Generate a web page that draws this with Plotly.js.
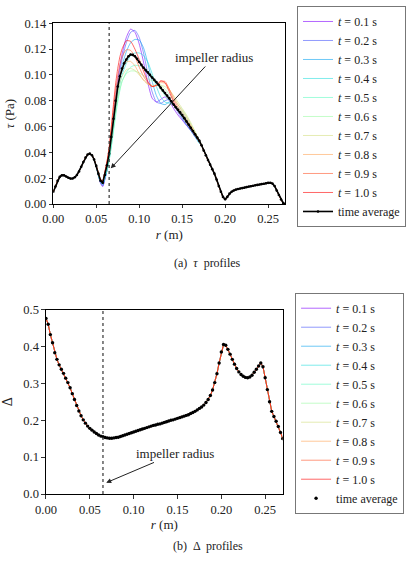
<!DOCTYPE html>
<html>
<head>
<meta charset="utf-8">
<script src="https://cdn.plot.ly/plotly-3.0.1.min.js"></script>
<style>html,body{margin:0;padding:0;background:#fff;}#chart{width:415px;height:564px;}</style>
</head>
<body>
<div id="chart"></div>
<script>
// ---------------- DATA ----------------
const radius = [0,0.0025,0.005,0.0075,0.01,0.0125,0.015,0.0175,0.02,0.0225,0.025,0.0275,0.03,0.0325,0.035,0.0375,0.04,0.0425,0.045,0.0475,0.05,0.0525,0.055,0.0575,0.06,0.0625,0.065,0.0675,0.07,0.0725,0.075,0.0775,0.08,0.0825,0.085,0.0875,0.09,0.0925,0.095,0.0975,0.1,0.1025,0.105,0.1075,0.11,0.1125,0.115,0.1175,0.12,0.1225,0.125,0.1275,0.13,0.1325,0.135,0.1375,0.14,0.1425,0.145,0.1475,0.15,0.1525,0.155,0.1575,0.16,0.1625,0.165,0.1675,0.17,0.1725,0.175,0.1775,0.18,0.1825,0.185,0.1875,0.19,0.1925,0.195,0.1975,0.2,0.2025,0.205,0.2075,0.21,0.2125,0.215,0.2175,0.22,0.2225,0.225,0.2275,0.23,0.2325,0.235,0.2375,0.24,0.2425,0.245,0.2475,0.25,0.2525,0.255,0.2575,0.26,0.2625,0.265,0.2675,0.27];

const tauAverage = [0.0095,0.0135,0.0180,0.0210,0.0222,0.0222,0.0213,0.0203,0.0197,0.0198,
0.0207,0.0225,0.0252,0.0288,0.0325,0.0360,0.0383,0.0390,0.0378,0.0345,
0.0295,0.0235,0.0180,0.0165,0.0225,0.0300,0.0390,0.0520,0.0660,0.0800,
0.0910,0.0990,0.1050,0.1090,0.1120,0.1145,0.1158,0.1155,0.1145,0.1125,
0.1100,0.1078,0.1055,0.1037,0.1020,0.1000,0.0980,0.0962,0.0945,0.0923,
0.0900,0.0880,0.0860,0.0840,0.0820,0.0795,0.0770,0.0750,0.0730,0.0710,
0.0690,0.0665,0.0640,0.0615,0.0590,0.0565,0.0540,0.0515,0.0490,0.0455,
0.0415,0.0378,0.0340,0.0305,0.0270,0.0235,0.0190,0.0140,0.0095,0.0055,
0.0037,0.0055,0.0080,0.0095,0.0105,0.0112,0.0116,0.0120,0.0123,0.0127,
0.0131,0.0135,0.0138,0.0141,0.0145,0.0148,0.0151,0.0154,0.0157,0.0160,
0.0164,0.0165,0.0158,0.0140,0.0105,0.0070,0.0035,0.0008,0.0000];

const deltaAverage = [0.476,0.460,0.432,0.410,0.383,0.365,0.350,0.338,0.327,0.314,
0.302,0.288,0.272,0.256,0.240,0.225,0.212,0.201,0.192,0.184,
0.178,0.173,0.168,0.164,0.160,0.157,0.155,0.153,0.152,0.151,
0.151,0.152,0.153,0.154,0.156,0.158,0.160,0.162,0.164,0.166,
0.168,0.170,0.172,0.174,0.176,0.178,0.180,0.182,0.184,0.186,
0.187,0.189,0.190,0.192,0.194,0.196,0.198,0.200,0.201,0.203,
0.205,0.207,0.209,0.211,0.213,0.215,0.218,0.221,0.224,0.228,
0.232,0.236,0.241,0.248,0.256,0.267,0.282,0.302,0.326,0.355,
0.385,0.405,0.403,0.392,0.379,0.365,0.352,0.340,0.331,0.324,
0.319,0.316,0.315,0.317,0.322,0.330,0.338,0.347,0.355,0.345,
0.315,0.283,0.250,0.224,0.210,0.197,0.183,0.167,0.150];

// radii where the instantaneous tau profiles differ from the average
const waveRadius = [0.0525,0.055,0.0575,0.06,0.0625,0.065,0.0675,0.07,0.0725,0.075,0.0775,0.08,0.085,0.09,0.095,0.1,0.105,0.11,0.115,0.12,0.125,0.13,0.135,0.14,0.145,0.15,0.155,0.16,0.165,0.17];

const tau_t01 = [0.022,0.016,0.0135,0.019,0.027,0.037,0.051,0.067,0.083,0.096,0.107,0.116,0.129,0.1355,0.133,0.124,0.110,0.094,0.082,0.079,0.081,0.083,0.080,0.074,0.069,0.065,0.061,0.057,0.053,0.048];
const tau_t02 = [0.022,0.0165,0.014,0.019,0.026,0.036,0.049,0.064,0.079,0.092,0.103,0.112,0.125,0.133,0.1345,0.129,0.117,0.101,0.087,0.079,0.078,0.080,0.081,0.077,0.071,0.066,0.061,0.057,0.052,0.048];
const tau_t03 = [0.022,0.017,0.015,0.020,0.026,0.035,0.047,0.061,0.075,0.088,0.099,0.107,0.118,0.125,0.1275,0.127,0.121,0.109,0.095,0.084,0.078,0.077,0.079,0.078,0.073,0.067,0.062,0.057,0.052,0.047];
const tau_t04 = [0.022,0.017,0.0155,0.020,0.026,0.034,0.045,0.058,0.071,0.083,0.093,0.100,0.109,0.115,0.117,0.117,0.115,0.110,0.101,0.091,0.083,0.079,0.078,0.077,0.074,0.069,0.064,0.058,0.053,0.047];
const tau_t05 = [0.022,0.0175,0.016,0.021,0.026,0.034,0.044,0.056,0.068,0.079,0.088,0.095,0.102,0.106,0.1075,0.107,0.1055,0.103,0.099,0.094,0.089,0.084,0.080,0.077,0.075,0.071,0.066,0.060,0.054,0.048];
const tau_t06 = [0.023,0.018,0.0165,0.022,0.028,0.036,0.047,0.059,0.071,0.081,0.089,0.095,0.101,0.103,0.103,0.1015,0.0995,0.097,0.0955,0.094,0.092,0.089,0.085,0.081,0.077,0.073,0.068,0.062,0.056,0.049];
const tau_t07 = [0.023,0.0185,0.017,0.023,0.030,0.039,0.051,0.064,0.076,0.086,0.094,0.099,0.104,0.105,0.1035,0.100,0.096,0.093,0.092,0.092,0.092,0.091,0.088,0.084,0.079,0.074,0.069,0.063,0.056,0.049];
const tau_t08 = [0.024,0.019,0.0175,0.024,0.032,0.042,0.056,0.070,0.083,0.093,0.101,0.106,0.110,0.1105,0.107,0.101,0.096,0.093,0.091,0.092,0.094,0.0935,0.089,0.083,0.077,0.072,0.067,0.061,0.055,0.049];
const tau_t09 = [0.024,0.019,0.018,0.025,0.033,0.043,0.058,0.074,0.088,0.099,0.108,0.114,0.1195,0.119,0.114,0.106,0.099,0.094,0.091,0.092,0.095,0.095,0.089,0.081,0.075,0.070,0.065,0.060,0.054,0.048];
const tau_t10 = [0.024,0.019,0.018,0.025,0.033,0.044,0.060,0.077,0.093,0.105,0.114,0.120,0.1265,0.126,0.120,0.112,0.103,0.095,0.091,0.092,0.0955,0.094,0.087,0.079,0.073,0.068,0.063,0.058,0.053,0.048];

const snapshotLabels = ['0.1','0.2','0.3','0.4','0.5','0.6','0.7','0.8','0.9','1.0'];
const snapshotColors = ['rgba(128,0,255,0.6)','rgba(71,87,251,0.6)','rgba(14,164,240,0.6)','rgba(43,221,221,0.6)','rgba(99,251,195,0.6)','rgba(156,251,164,0.6)','rgba(212,221,128,0.6)','rgba(255,164,87,0.6)','rgba(255,87,44,0.6)','rgba(255,0,0,0.6)'];
const tauSnapshots = [tau_t01,tau_t02,tau_t03,tau_t04,tau_t05,tau_t06,tau_t07,tau_t08,tau_t09,tau_t10];
const impellerRadius = 0.065;

// ---------------- BUILD ----------------
function fullProfile(wave){
  const xs=[], ys=[];
  const lo = waveRadius[0]-1e-9, hi = waveRadius[waveRadius.length-1]+1e-9;
  for(let i=0;i<radius.length;i++) if(radius[i]<lo){xs.push(radius[i]); ys.push(tauAverage[i]);}
  for(let j=0;j<waveRadius.length;j++){xs.push(waveRadius[j]); ys.push(wave[j]);}
  for(let i=0;i<radius.length;i++) if(radius[i]>hi){xs.push(radius[i]); ys.push(tauAverage[i]);}
  return {xs, ys};
}

const traces = [];
tauSnapshots.forEach((w,k)=>{
  const p = fullProfile(w);
  traces.push({x:p.xs, y:p.ys, xaxis:'x', yaxis:'y', type:'scatter', mode:'lines',
    line:{color:snapshotColors[k], width:1, shape:'spline', smoothing:0.6},
    name:'<i>t</i> = '+snapshotLabels[k]+' s', legend:'legend', hoverinfo:'skip'});
});
traces.push({x:radius, y:tauAverage, xaxis:'x', yaxis:'y', type:'scatter', mode:'lines+markers',
  line:{color:'#000', width:1.6}, marker:{color:'#000', size:2.6}, name:'time average', legend:'legend'});

snapshotColors.forEach((c,k)=>{
  traces.push({x:radius, y:deltaAverage, xaxis:'x2', yaxis:'y2', type:'scatter', mode:'lines',
    line:{color:c, width:1}, name:'<i>t</i> = '+snapshotLabels[k]+' s', legend:'legend2', hoverinfo:'skip'});
});
traces.push({x:radius, y:deltaAverage, xaxis:'x2', yaxis:'y2', type:'scatter', mode:'markers',
  marker:{color:'#000', size:3.4}, name:'time average', legend:'legend2'});

const serif = '"Liberation Serif", "DejaVu Serif", serif';
function ax(extra){
  return Object.assign({showline:true, mirror:true, linecolor:'#000', linewidth:1, showgrid:false, zeroline:false,
    ticks:'outside', ticklen:3.5, tickwidth:0.8, tickcolor:'#000', tickfont:{family:serif, size:12.5, color:'#222'}}, extra);
}

const layout = {
  width:415, height:564, margin:{l:0,r:0,t:0,b:0},
  paper_bgcolor:'#fff', plot_bgcolor:'#fff',
  font:{family:serif, size:12.5, color:'#222'},
  showlegend:true,
  xaxis: ax({domain:[0.1284,0.6875], anchor:'y', range:[0,0.27], tick0:0, dtick:0.05, tickformat:'.2f',
    title:{text:'<i>r</i> (m)', standoff:4, font:{family:serif,size:13,color:'#222'}}}),
  yaxis: ax({domain:[0.6383,0.9587], anchor:'x', range:[0,0.14], tick0:0, dtick:0.02, tickformat:'.2f',
    title:{text:'<i>τ</i> (Pa)', standoff:6, font:{family:serif,size:13,color:'#222'}}}),
  xaxis2: ax({domain:[0.1108,0.6812], anchor:'y2', range:[0,0.27], tick0:0, dtick:0.05, tickformat:'.2f',
    title:{text:'<i>r</i> (m)', standoff:4, font:{family:serif,size:13,color:'#222'}}}),
  yaxis2: ax({domain:[0.1241,0.4512], anchor:'x2', range:[0,0.5], tick0:0, dtick:0.1, tickformat:'.1f',
    title:{text:'Δ', standoff:8, font:{family:serif,size:14,color:'#222'}}}),
  legend:{x:0.7157, y:0.9894, xanchor:'left', yanchor:'top', bgcolor:'#fff', bordercolor:'#777', borderwidth:1,
    font:{family:serif, size:12, color:'#222'}, tracegroupgap:0},
  legend2:{x:0.711, y:0.481, xanchor:'left', yanchor:'top', bgcolor:'#fff', bordercolor:'#777', borderwidth:1,
    font:{family:serif, size:12, color:'#222'}, tracegroupgap:0},
  shapes:[
    {type:'line', xref:'x', yref:'y domain', x0:impellerRadius, x1:impellerRadius, y0:0, y1:1, line:{color:'#333', width:1.2, dash:'dot'}},
    {type:'line', xref:'x2', yref:'y2 domain', x0:impellerRadius, x1:impellerRadius, y0:0, y1:1, line:{color:'#333', width:1.2, dash:'dot'}}
  ],
  annotations:[
    {xref:'x', yref:'y', axref:'x', ayref:'y', x:0.0669, y:0.0276, ax:0.1866, ay:0.1135, text:'impeller radius',
      showarrow:true, arrowhead:2, arrowsize:1, arrowwidth:1, arrowcolor:'#222', font:{family:serif,size:13,color:'#222'}},
    {xref:'x2', yref:'y2', axref:'x2', ayref:'y2', x:0.0687, y:0.0306, ax:0.1474, ay:0.110, text:'impeller radius',
      showarrow:true, arrowhead:2, arrowsize:1, arrowwidth:1, arrowcolor:'#222', font:{family:serif,size:13,color:'#222'}},
    {xref:'paper', yref:'paper', x:0.501, y:0.533, yanchor:'middle', text:'(a)  <i>τ</i>  profiles', showarrow:false, font:{family:serif,size:12,color:'#222'}},
    {xref:'paper', yref:'paper', x:0.501, y:0.0324, yanchor:'middle', text:'(b)  Δ  profiles', showarrow:false, font:{family:serif,size:12,color:'#222'}}
  ]
};

Plotly.newPlot('chart', traces, layout, {staticPlot:true, displayModeBar:false});
</script>
</body>
</html>
